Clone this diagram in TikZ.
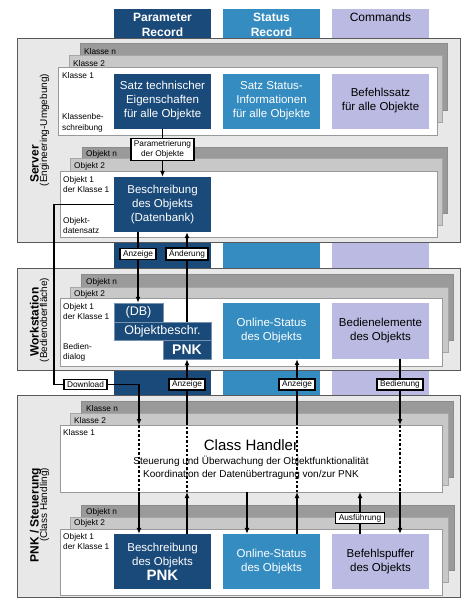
\documentclass[tikz,border=0pt]{standalone}
\usepackage{fontspec}
\setmainfont{Liberation Sans}
\usepackage{tikz}
\usetikzlibrary{arrows.meta,positioning,calc}

\definecolor{recblue}{RGB}{26,74,122}
\definecolor{statblue}{RGB}{52,140,192}
\definecolor{cmdlav}{RGB}{186,186,226}
\definecolor{panelgray}{RGB}{232,232,232}
\definecolor{cardn}{RGB}{154,154,154}
\definecolor{cardtwo}{RGB}{200,200,200}

\begin{document}
\begin{tikzpicture}[x=1pt, y=-1pt, >={Latex[length=6pt,width=5pt]},
  every node/.style={font=\fontsize{8.3}{10.5}\selectfont, inner sep=0pt},
  head/.style={font=\fontsize{12}{15}\selectfont\bfseries, text=white, align=center},
  side/.style={rotate=90, anchor=base, font=\fontsize{12}{14}\selectfont\bfseries},
  sidesub/.style={rotate=90, anchor=base, font=\fontsize{10}{12}\selectfont},
  box/.style={minimum width=97pt, minimum height=55pt, align=center, text=white, font=\fontsize{11.5}{14}\selectfont},
  dbpart/.style={fill=recblue, draw=recblue!60!white, line width=0.5pt, text=white, font=\fontsize{12.5}{14}\selectfont},
  lbl/.style={anchor=west, align=left},
  tag/.style={draw, fill=white, line width=1.4pt, inner xsep=3pt, inner ysep=1.8pt, align=center},
  link/.style={line width=1.4pt},
  through/.style={line width=1.4pt, dash pattern=on 2.5pt off 2pt},
  panel/.style={fill=panelgray, draw=black!65, line width=0.8pt},
  cardback/.style={fill=cardn, draw=black!45, line width=0.5pt},
  cardmid/.style={fill=cardtwo, draw=black!35, line width=0.5pt},
  cardfront/.style={fill=white, draw=black!40, line width=0.5pt}]
  \useasboundingbox (0,0) rectangle (462,598);

  % Record columns (behind everything)
  \fill[recblue] (114,9) rectangle (211,395);
  \fill[statblue] (223,9) rectangle (320,395);
  \fill[cmdlav] (332,9) rectangle (429,395);
  \node[head] (hpar) at (162.5,24.5) {Parameter\\Record};
  \node[head] (hstat) at (271.5,24.5) {Status\\Record};
  \node[head, text=black, font=\fontsize{12}{15}\selectfont] (hcmd) at (380.5,17) {Commands};

  % Server (top)
  \draw[panel] (17,38) rectangle (460,242);
  \node[side] (srv) at (38.5,164) {Server};
  \node[sidesub] (srvsub) at (47,130) {(Engineering-Umgebung)};
  \draw[cardback] (80,43) rectangle (447,110);
  \node[lbl] (kn) at (84,52) {Klasse n};
  \draw[cardmid] (69,55) rectangle (442,122);
  \node[lbl] (k2) at (73,64) {Klasse 2};
  \draw[cardfront] (58,67) rectangle (437,135);
  \node[lbl] (k1) at (62,76) {Klasse 1};
  \node[lbl] (kdesc) at (62,123) {Klassenbe-\\schreibung};
  \node[box, fill=recblue] (spar) at (162.5,101) {Satz technischer\\Eigenschaften\\für alle Objekte};
  \node[box, fill=statblue] (sstat) at (271.5,101) {Satz Status-\\Informationen\\für alle Objekte};
  \node[box, fill=cmdlav, text=black] (scmd) at (380.5,101) {Befehlssatz\\für alle Objekte};
  \draw[cardback] (82,147) rectangle (447,213);
  \node[lbl] (on) at (86,154) {Objekt n};
  \draw[cardmid] (70,158) rectangle (442,225);
  \node[lbl] (o2) at (74,166) {Objekt 2};
  \draw[cardfront] (60,171) rectangle (437,237);
  \node[lbl] (o1) at (63,184.5) {Objekt 1\\der Klasse 1};
  \node[lbl] (odat) at (63,225.5) {Objekt-\\datensatz};
  \node[box, fill=recblue] (bdb) at (162.5,204.5) {Beschreibung\\des Objekts\\(Datenbank)};
  \node[tag] (tparam) at (162.5,149.5) {Parametrierung\\der Objekte};
  \draw[link] (spar.south) -- (tparam.north);
  \draw[link,->] (tparam.south) -- (bdb.north);

  % Workstation (middle)
  \draw[panel] (17,268) rectangle (460,370);
  \node[side] (ws) at (38.5,322) {Workstation};
  \node[sidesub] (wssub) at (47,320) {(Bedienoberfläche)};
  \draw[cardback] (81,274) rectangle (453,340);
  \node[lbl] (won) at (86,282) {Objekt n};
  \draw[cardmid] (70,287) rectangle (448,352);
  \node[lbl] (wo2) at (74,294) {Objekt 2};
  \draw[cardfront] (60,298) rectangle (442,366);
  \node[lbl] (wo1) at (63,311.5) {Objekt 1\\der Klasse 1};
  \node[lbl] (wdlg) at (63,352.5) {Bedien-\\dialog};
  \node[dbpart, minimum width=49pt, minimum height=19pt] (wdb) at (138.5,312.5) {(DB)};
  \node[dbpart, minimum width=97pt, minimum height=18pt] (wob) at (162.5,331) {Objektbeschr.};
  \node[dbpart, minimum width=48pt, minimum height=19pt, font=\fontsize{14}{16}\selectfont\bfseries] (wpnk) at (187,349.5) {PNK};
  \node[box, fill=statblue, minimum height=56pt] (wstat) at (271.5,331) {Online-Status\\des Objekts};
  \node[box, fill=cmdlav, text=black, minimum height=56pt] (wcmd) at (380.5,331) {Bedienelemente\\des Objekts};

  % Server <-> Workstation
  \node[tag] (tanz1) at (138,254) {Anzeige};
  \node[tag] (taend) at (187,254) {Änderung};
  \draw[link] (bdb.south -| tanz1) -- (tanz1.north);
  \draw[link,->] (tanz1.south) -- (tanz1 |- wdb.north);
  \draw[link] (wob.north -| taend) -- (taend.south);
  \draw[link,->] (taend.north) -- (taend |- bdb.south);

  % PNK / Steuerung (bottom)
  \draw[panel] (17,395) rectangle (460,597);
  \node[side] (pnk) at (38.5,515) {PNK / Steuerung};
  \node[sidesub] (pnksub) at (47,505) {(Class Handling)};
  \draw[cardback] (81,401) rectangle (453,477);
  \node[lbl] (kpn) at (86,409) {Klasse n};
  \draw[cardmid] (70,413) rectangle (448,485);
  \node[lbl] (kp2) at (74,421) {Klasse 2};
  \draw[cardfront] (60,425) rectangle (442,492);
  \node[lbl] (kp1) at (63,433) {Klasse 1};
  \node[font=\fontsize{15}{17}\selectfont] (chead) at (251,445) {Class Handler};
  \node[font=\fontsize{10}{13}\selectfont, align=center] (ctext) at (251,467.5) {Steuerung und Überwachung der Objektfunktionalität\\Koordination der Datenübertragung von/zur PNK};
  \draw[cardback] (81,505) rectangle (454,570);
  \node[lbl] (pon) at (86,512) {Objekt n};
  \draw[cardmid] (70,517) rectangle (448,582);
  \node[lbl] (po2) at (74,523) {Objekt 2};
  \draw[cardfront] (60,529) rectangle (442,595);
  \node[lbl] (po1) at (63,541.5) {Objekt 1\\der Klasse 1};
  \node[box, fill=recblue] (pbes) at (162.5,561.5) {Beschreibung\\des Objekts\\[1pt]{\fontsize{15}{17}\selectfont\bfseries PNK}};
  \node[box, fill=statblue] (pstat) at (271.5,561.5) {Online-Status\\des Objekts};
  \node[box, fill=cmdlav, text=black] (pcmd) at (380.5,561.5) {Befehlspuffer\\des Objekts};

  % crossing points of the Class Handler
  \coordinate (ci1) at (139,425); \coordinate (co1) at (139,492);
  \coordinate (ci2) at (187,425); \coordinate (co2) at (187,492);
  \coordinate (co3) at (247,492);
  \coordinate (ci4) at (297,425); \coordinate (co4) at (297,492);
  \coordinate (co5) at (360,492);
  \coordinate (ci6) at (400,425); \coordinate (co6) at (400,492);
  \coordinate (dlbend) at (54,204.5);

  % Workstation <-> PNK
  \node[tag] (tdl) at (85.5,384.5) {Download};
  \node[tag] (tanz2) at (187,384.5) {Anzeige};
  \node[tag] (tanz3) at (297,384.5) {Anzeige};
  \node[tag] (tbed) at (400,384.5) {Bedienung};
  \node[tag] (taus) at (360,518) {Ausführung};

  \draw[link] (bdb.west) -- (dlbend) |- (tdl.west);
  \draw[link,->] (tdl.east) -| (ci1);
  \draw[through] (ci1) -- (co1);
  \draw[link,->] (co1) -- (co1 |- pbes.north);

  \draw[link,->] (co2 |- pbes.north) -- (co2);
  \draw[through] (co2) -- (ci2);
  \draw[link] (ci2) -- (tanz2.south);
  \draw[link,->] (tanz2.north) -- (tanz2 |- wpnk.south);

  \draw[link,->] (co3) -- (co3 |- pstat.north);
  \draw[link,->] (co4 |- pstat.north) -- (co4);
  \draw[through] (co4) -- (ci4);
  \draw[link] (ci4) -- (tanz3.south);
  \draw[link,->] (tanz3.north) -- (tanz3 |- wstat.south);

  \draw[link] (pcmd.north -| taus) -- (taus.south);
  \draw[link,->] (taus.north) -- (co5);
  \draw[link] (wcmd.south -| tbed) -- (tbed.north);
  \draw[link,->] (tbed.south) -- (ci6);
  \draw[through] (ci6) -- (co6);
  \draw[link,->] (co6) -- (co6 |- pcmd.north);
\end{tikzpicture}
\end{document}
